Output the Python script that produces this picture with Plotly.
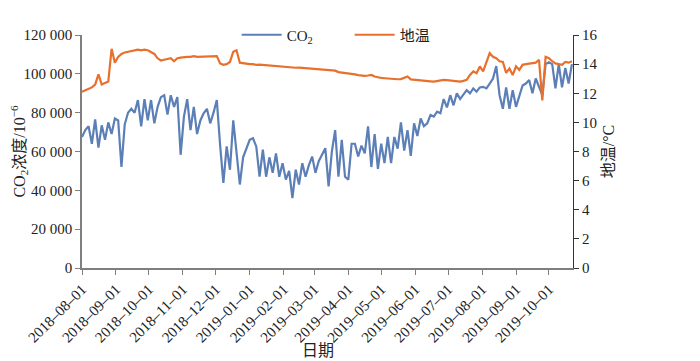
import pandas as pd
import plotly.graph_objects as go

# ---- data (3-day sampling) ----
dates = pd.date_range("2018-08-01", periods=150, freq="3D")

co2 = [
    67500, 71000, 73000, 64000, 76500, 62000, 73500, 66000, 75000, 69000,
    77000, 76000, 52000, 74000, 80000, 82000, 80000, 86500, 73000, 87000,
    76000, 86500, 74500, 83000, 88000, 89000, 79000, 89000, 83000, 88000,
    58300, 78000, 87000, 71000, 83000, 69000, 76000, 79700, 82000, 74500,
    80000, 86500, 63400, 43800, 62600, 50600, 76000, 58000, 43000, 57000,
    62000, 66000, 66800, 62600, 47000, 61000, 47000, 57000, 49000, 59000,
    47000, 54000, 45500, 50000, 36000, 50600, 43000, 54000, 47000, 53000,
    57400, 49000, 55000, 58000, 61700, 42000, 60000, 71000, 47000, 66000,
    47000, 45500, 64000, 64000, 57400, 63000, 59000, 73000, 52000, 69000,
    51000, 64000, 54000, 67500, 54000, 67500, 61500, 75000, 60500, 71000,
    57800, 74500, 68000, 77000, 73000, 74500, 78800, 78000, 80500, 79700,
    87000, 82700, 89000, 83800, 90000, 87000, 89000, 91600, 90000, 92500,
    90800, 93000, 93300, 92500, 95000, 97600, 104000, 89000, 82000, 93000,
    82000, 91600, 83000, 88000, 94000, 95000, 96800, 90000, 97600, 93300,
    89000, 105000, 106000, 105000, 92500, 105000, 93000, 103000, 95000, 105000,
]

soil_temp = [
    12.1, 12.2, 12.3, 12.4, 12.6, 13.3, 12.6, 12.7, 12.8, 15.05,
    14.1, 14.5, 14.7, 14.8, 14.85, 14.9, 14.95, 15.0, 14.95, 15.0,
    14.95, 14.85, 14.7, 14.4, 14.25, 14.3, 14.35, 14.4, 14.2, 14.4,
    14.45, 14.5, 14.5, 14.5, 14.55, 14.5, 14.5, 14.55, 14.5, 14.55,
    14.5, 14.55, 14.05, 13.95, 14.0, 14.15, 14.85, 14.95, 14.1, 14.05,
    14.0, 14.0, 14.0, 13.95, 13.97, 13.95, 13.9, 13.88, 13.87, 13.85,
    13.85, 13.83, 13.8, 13.8, 13.78, 13.75, 13.76, 13.74, 13.72, 13.7,
    13.7, 13.66, 13.65, 13.63, 13.62, 13.6, 13.6, 13.55, 13.45, 13.43,
    13.4, 13.36, 13.32, 13.3, 13.25, 13.22, 13.2, 13.22, 13.26, 13.15,
    13.08, 13.05, 13.03, 13.0, 12.98, 12.97, 12.96, 12.97, 13.05, 13.15,
    12.95, 12.92, 12.9, 12.88, 12.87, 12.85, 12.82, 12.8, 12.85, 12.9,
    12.92, 12.9, 12.87, 12.85, 12.82, 12.8, 12.85, 12.92, 13.26, 13.5,
    13.37, 13.84, 13.5, 14.2, 14.75, 14.5, 14.4, 14.2, 14.15, 13.4,
    13.7, 13.25, 13.85, 13.6, 13.95, 14.0, 14.05, 14.05, 14.1, 14.3,
    11.5, 14.5, 14.4, 14.2, 14.05, 14.0, 13.95, 14.15, 14.1, 14.2,
]

left_tickvals = [0, 20000, 40000, 60000, 80000, 100000, 120000]
left_ticktext = ["0", "20 000", "40 000", "60 000", "80 000", "100 000", "120 000"]
right_tickvals = [0, 2, 4, 6, 8, 10, 12, 14, 16]

FONT = "Liberation Serif, Times New Roman, Noto Sans CJK SC, serif"
BLUE = "#5B7FB6"
ORANGE = "#E8702C"

fig = go.Figure()
fig.add_trace(go.Scatter(x=dates, y=co2, mode="lines", name="CO<sub>2</sub>",
                         line=dict(color=BLUE, width=2.2), yaxis="y"))
fig.add_trace(go.Scatter(x=dates, y=soil_temp, mode="lines", name="地温",
                         line=dict(color=ORANGE, width=2.2), yaxis="y2"))

# page body has an 8px margin, so the figure is drawn at (8, 8)
fig.update_layout(
    width=692, height=353,
    margin=dict(l=74, r=127, t=27, b=93, autoexpand=False),
    paper_bgcolor="white", plot_bgcolor="white",
    font=dict(family=FONT, size=15, color="#222"),
    showlegend=True,
    legend=dict(orientation="h", x=0.315, xanchor="left", y=1.0, yanchor="middle",
                bgcolor="rgba(0,0,0,0)", font=dict(size=15), itemwidth=40,
                entrywidth=58),
    xaxis=dict(
        type="date", range=["2018-08-01", "2019-10-23"], automargin=False,
        tick0="2018-08-01", dtick="M1", tickformat="%Y–%m–%d",
        tickangle=-45, ticks="outside", ticklen=5, tickcolor="#7f7f7f",
        showline=True, linecolor="#7f7f7f", linewidth=1.5,
        showgrid=False, zeroline=False,
        tickfont=dict(size=15),
    ),
    yaxis=dict(
        range=[0, 120000], tickvals=left_tickvals, ticktext=left_ticktext,
        automargin=False,
        ticks="outside", ticklen=5, tickcolor="#7f7f7f",
        showline=True, linecolor="#7f7f7f", linewidth=1.5,
        showgrid=False, zeroline=False,
        title=dict(text="CO<sub>2</sub>浓度/10<sup>−6</sup>", font=dict(size=16), standoff=6),
        tickfont=dict(size=15),
    ),
    yaxis2=dict(
        range=[0, 16], tickvals=right_tickvals, overlaying="y", side="right",
        automargin=False,
        ticks="outside", ticklen=5, tickcolor="#333",
        showline=True, linecolor="#333", linewidth=1.2,
        showgrid=False, zeroline=False,
        title=dict(text="地温/°C", font=dict(size=16), standoff=6),
        tickfont=dict(size=15),
    ),
    annotations=[dict(text="日期", xref="paper", yref="paper", x=0.4807, y=-0.352,
                      xanchor="center", yanchor="middle", showarrow=False,
                      font=dict(size=16))],
)

fig.write_html("out.html")
